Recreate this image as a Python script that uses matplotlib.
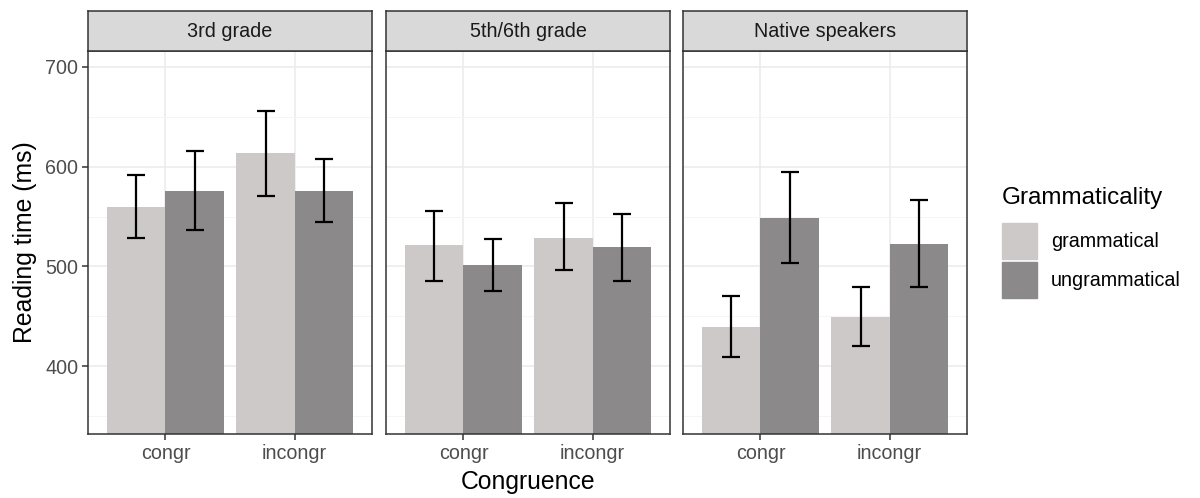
import numpy as np
import matplotlib.pyplot as plt
from matplotlib.patches import Rectangle

plt.rcParams['font.family'] = ['Liberation Sans', 'DejaVu Sans']

groups = ["3rd grade", "5th/6th grade", "Native speakers"]
congruence = ["congr", "incongr"]
grammaticality = ["grammatical", "ungrammatical"]

# mean reading times [group][congruence][grammaticality]
means = [
    [[560, 576], [614, 576]],
    [[521, 501], [529, 519]],
    [[439, 549], [449, 522]],
]
lower = [
    [[529, 537], [571, 545]],
    [[485, 475], [496, 485]],
    [[409, 503], [420, 479]],
]
upper = [
    [[592, 616], [656, 608]],
    [[556, 528], [564, 553]],
    [[470, 595], [479, 567]],
]

colors = ["#CDC9C9", "#8B8989"]
W, H = 1200, 498
fig = plt.figure(figsize=(W / 100, H / 100), dpi=100)

panel_left = [88, 386, 683]
panel_w = 284
panel_top, panel_bot = 51, 434
strip_top = 11
ylim = (332, 716)
dark = "#333333"

for gi, g in enumerate(groups):
    ax = fig.add_axes([panel_left[gi] / W, (H - panel_bot) / H,
                       panel_w / W, (panel_bot - panel_top) / H])
    ax.set_xlim(0.4, 2.6)
    ax.set_ylim(*ylim)
    ax.set_yticks([400, 500, 600, 700])
    ax.set_yticks([350, 450, 550, 650], minor=True)
    ax.set_xticks([1, 2])
    ax.set_xticklabels(congruence)
    ax.grid(True, which="major", color="#EBEBEB", linewidth=1.1)
    ax.grid(True, which="minor", axis="y", color="#F4F4F4", linewidth=0.6)
    ax.set_axisbelow(True)
    for s in ax.spines.values():
        s.set_color(dark)
        s.set_linewidth(1.1)
    ax.tick_params(axis="both", which="major", color=dark, length=4,
                   width=1.1, labelsize=14.2, labelcolor="#4D4D4D", pad=3)
    ax.tick_params(axis="y", which="minor", length=0)
    if gi > 0:
        ax.tick_params(axis="y", labelleft=False, length=0)
    for ci in range(2):
        for ki in range(2):
            x = ci + 1 - 0.225 + ki * 0.45
            m = means[gi][ci][ki]
            ax.bar(x, m - ylim[0] + 50, bottom=ylim[0] - 50, width=0.45,
                   color=colors[ki], linewidth=0, zorder=2)
            ax.errorbar(x, m, yerr=[[m - lower[gi][ci][ki]], [upper[gi][ci][ki] - m]],
                        fmt="none", ecolor="black", elinewidth=1.6,
                        capsize=6.3, capthick=1.6, zorder=3)
    if gi == 0:
        ax.set_ylabel("Reading time (ms)", fontsize=17.8, color="black", labelpad=6)
    if gi == 1:
        ax.set_xlabel("Congruence", fontsize=17.8, color="black", labelpad=5)

    sax = fig.add_axes([panel_left[gi] / W, (H - panel_top) / H,
                        panel_w / W, (panel_top - strip_top) / H])
    sax.set_facecolor("#D9D9D9")
    sax.set_xticks([])
    sax.set_yticks([])
    for s in sax.spines.values():
        s.set_color(dark)
        s.set_linewidth(1.1)
    sax.text(0.5, 0.5, g, ha="center", va="center", fontsize=14.2,
             color="#1A1A1A", transform=sax.transAxes)

# legend
fig.text(1002 / W, 1 - 198 / H, "Grammaticality", fontsize=17.5,
         va="center", ha="left")
for ki, lab in enumerate(grammaticality):
    y0 = 223 + ki * 39
    fig.patches.append(Rectangle((1002 / W, 1 - (y0 + 36) / H), 35 / W, 36 / H,
                                 transform=fig.transFigure, color=colors[ki]))
    fig.text(1051 / W, 1 - (y0 + 18) / H, lab, fontsize=14.2,
             va="center", ha="left")

fig.savefig("out.png", dpi=100)
